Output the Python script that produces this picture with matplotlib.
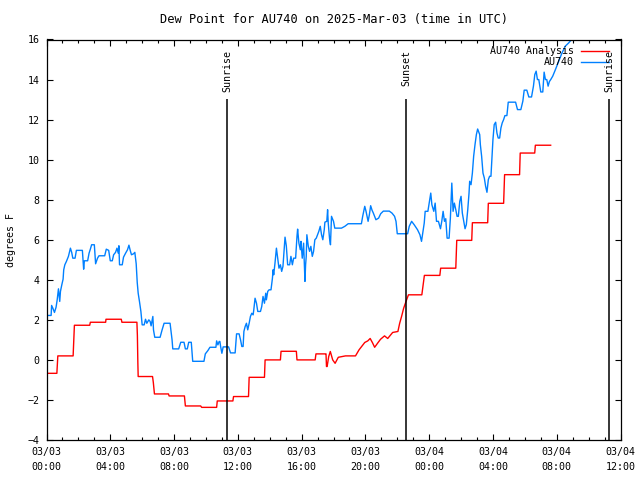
import matplotlib
matplotlib.use("Agg")
import matplotlib.pyplot as plt
from matplotlib.lines import Line2D

plt.rcParams['font.family'] = ['DejaVu Sans Mono']
plt.rcParams['font.size'] = 7.2

# hours since 03/03 00:00 UTC, dew point in F
obs_t = [0.0, 0.29, 0.32, 0.4, 0.5, 0.6, 0.67, 0.75, 0.83, 0.875, 0.96, 1.04, 1.08, 1.15,
         1.25, 1.375, 1.5, 1.58, 1.65, 1.79, 1.875, 2.25, 2.29, 2.33, 2.375, 2.58, 2.67,
         2.75, 2.83, 3.0, 3.08, 3.2, 3.29, 3.65, 3.75, 3.9, 4.0, 4.125, 4.21, 4.33, 4.42,
         4.5, 4.54, 4.58, 4.75, 4.83, 4.96, 5.08, 5.17, 5.25, 5.33, 5.46, 5.54, 5.625,
         5.69, 5.75, 5.83, 5.92, 6.0, 6.125, 6.21, 6.29, 6.42, 6.5, 6.56, 6.67, 6.71,
         6.79, 7.125, 7.25, 7.375, 7.75, 7.875, 7.92, 8.29, 8.42, 8.625, 8.71, 8.83,
         8.92, 9.08, 9.17, 9.875, 9.96, 10.125, 10.25, 10.625, 10.67, 10.75, 10.83,
         10.875, 10.92, 11.0, 11.08, 11.42, 11.54, 11.83, 11.92, 12.08, 12.17, 12.25,
         12.33, 12.38, 12.46, 12.54, 12.62, 12.71, 12.79, 12.875, 12.96, 13.0, 13.08,
         13.17, 13.25, 13.42, 13.5, 13.58, 13.67, 13.75, 13.79, 13.875, 13.96, 14.08,
         14.17, 14.21, 14.25, 14.33, 14.42, 14.5, 14.58, 14.67, 14.75, 14.83, 14.92,
         14.96, 15.04, 15.125, 15.25, 15.33, 15.42, 15.5, 15.625, 15.71, 15.75, 15.83,
         15.92, 15.96, 16.04, 16.125, 16.21, 16.25, 16.29, 16.33, 16.42, 16.5, 16.58,
         16.67, 16.75, 16.83, 16.92, 17.0, 17.08, 17.17, 17.25, 17.33, 17.42, 17.46,
         17.58, 17.63, 17.67, 17.75, 17.81, 17.875, 18.0, 18.08, 18.5, 18.71, 18.92,
         19.75, 19.83, 19.96, 20.04, 20.17, 20.25, 20.33, 20.42, 20.5, 20.66, 20.83,
         20.96, 21.125, 21.5, 21.67, 21.83, 21.92, 22.0, 22.65, 22.75, 22.9, 23.06,
         23.27, 23.42, 23.52, 23.58, 23.69, 23.75, 23.92, 24.0, 24.1, 24.17, 24.29,
         24.375, 24.46, 24.58, 24.71, 24.79, 24.875, 24.96, 25.04, 25.125, 25.25,
         25.33, 25.42, 25.5, 25.58, 25.67, 25.75, 25.83, 25.92, 26.0, 26.08, 26.17,
         26.25, 26.33, 26.42, 26.5, 26.54, 26.625, 26.71, 26.79, 26.875, 26.96, 27.04,
         27.17, 27.21, 27.29, 27.375, 27.46, 27.54, 27.625, 27.71, 27.79, 27.875,
         27.92, 28.0, 28.08, 28.17, 28.25, 28.33, 28.42, 28.5, 28.58, 28.67, 28.75,
         28.875, 28.96, 29.42, 29.54, 29.75, 29.875, 29.96, 30.125, 30.25, 30.42,
         30.54, 30.625, 30.71, 30.79, 30.875, 31.0, 31.125, 31.21, 31.29, 31.375,
         31.46, 31.54, 31.625, 31.75, 31.92, 32.125, 32.33, 32.54, 32.75, 32.96, 33.3]
obs_v = [2.22, 2.22, 2.72, 2.58, 2.37, 2.63, 3.0, 3.55, 2.92, 3.42, 3.75, 4.03, 4.5, 4.75,
         4.92, 5.17, 5.58, 5.37, 5.08, 5.08, 5.47, 5.47, 5.0, 4.53, 4.95, 4.95, 5.33,
         5.53, 5.75, 5.75, 4.8, 5.08, 5.2, 5.2, 5.53, 5.47, 4.95, 4.95, 5.25, 5.37, 5.58,
         5.33, 5.7, 4.75, 4.75, 5.13, 5.33, 5.5, 5.73, 5.47, 5.25, 5.3, 5.37, 4.8,
         3.87, 3.33, 2.92, 2.42, 1.75, 1.75, 2.03, 1.83, 2.0, 1.92, 1.7, 2.17, 1.5,
         1.13, 1.13, 1.5, 1.83, 1.83, 1.0, 0.55, 0.55, 0.88, 0.88, 0.55, 0.55,
         0.88, 0.88, -0.07, -0.07, 0.3, 0.47, 0.63, 0.63, 0.95, 0.75, 0.92,
         0.92, 0.67, 0.33, 0.65, 0.65, 0.35, 0.35, 1.3, 1.3, 1.0, 0.67,
         0.67, 1.42, 1.67, 1.83, 1.5, 1.83, 2.17, 2.33, 2.25, 2.5, 3.08,
         2.83, 2.42, 2.42, 2.67, 3.17, 2.83, 3.33, 3.0, 3.42, 3.5, 3.5,
         4.08, 4.5, 4.25, 4.83, 5.58, 5.08, 4.58, 4.75, 4.42, 4.67, 5.67,
         6.13, 5.7, 4.75, 4.75, 5.17, 4.75, 5.08, 5.08, 6.17, 6.53, 5.83,
         5.5, 5.92, 5.08, 5.83, 3.92, 4.75, 5.17, 6.25, 5.67, 5.42, 5.67,
         5.17, 5.42, 6.0, 6.08, 6.25, 6.42, 6.67, 6.25, 6.0, 6.5, 6.88,
         6.92, 7.5, 6.83, 6.08, 5.75, 7.17, 6.92, 6.58, 6.58, 6.67, 6.8,
         6.8, 7.17, 7.67, 7.42, 6.92, 7.25, 7.7, 7.47, 7.33, 7.0, 7.08,
         7.3, 7.43, 7.43, 7.33, 7.17, 6.92, 6.3, 6.3, 6.67, 6.92, 6.75,
         6.5, 6.25, 5.92, 6.25, 6.83, 7.42, 7.42, 7.83, 8.33, 7.75, 7.42,
         7.83, 6.92, 6.92, 6.55, 6.92, 7.42, 6.92, 7.05, 6.08, 6.08,
         7.08, 8.83, 7.42, 7.83, 7.5, 7.17, 7.17, 7.92, 8.17, 7.33, 6.92,
         6.55, 6.75, 7.5, 8.33, 8.92, 8.75, 9.33, 10.17, 10.75, 11.25, 11.53,
         11.25, 10.75, 10.17, 9.33, 9.08, 8.67, 8.37, 9.0, 9.17, 9.17,
         9.83, 11.0, 11.75, 11.87, 11.33, 11.08, 11.08, 11.58, 11.83, 12.0, 12.2,
         12.2, 12.87, 12.87, 12.5, 12.5, 12.92, 13.47, 13.47, 13.13, 13.13,
         13.67, 14.25, 14.42, 14.0, 14.0, 13.38, 13.38, 14.37, 14.0, 14.0,
         13.67, 13.9, 14.0, 14.17, 14.5, 14.92, 15.33, 15.67, 15.83, 16.03, 16.4]

ana_t = [0.0, 0.65, 0.71, 1.67, 1.75, 2.71, 2.75, 3.71, 3.73, 4.69, 4.73, 5.67, 5.70,
         5.73, 5.75, 6.65, 6.70, 6.77, 7.65, 7.69, 8.65, 8.71, 9.67, 9.73, 10.67, 10.71,
         11.69, 11.73, 12.67, 12.71, 13.67, 13.71, 14.67, 14.71, 15.67, 15.71, 16.85,
         16.9, 17.5, 17.53, 17.56, 17.6, 17.7, 17.8, 17.95, 18.1, 18.3, 18.75, 19.38,
         19.6, 19.96, 20.15, 20.3, 20.45, 20.58, 20.78, 20.95, 21.2, 21.4, 21.71,
         22.04, 22.15, 22.27, 22.4, 22.54, 22.7, 23.54, 23.7, 24.67, 24.72, 25.67,
         25.73, 26.67, 26.71, 27.67, 27.71, 28.67, 28.73, 29.67, 29.71, 30.62, 30.66,
         31.62]
ana_v = [-0.67, -0.67, 0.2, 0.2, 1.73, 1.73, 1.88, 1.88, 2.03, 2.03, 1.88, 1.88, 1.22,
         -0.17, -0.83, -0.83, -1.13, -1.7, -1.7, -1.8, -1.8, -2.3, -2.3, -2.37, -2.37,
         -2.05, -2.05, -1.83, -1.83, -0.87, -0.87, 0.0, 0.0, 0.43, 0.43, 0.0, 0.0,
         0.3, 0.3, 0.3, -0.33, -0.33, 0.17, 0.42, 0.0, -0.17, 0.13, 0.2, 0.2,
         0.5, 0.87, 0.95, 1.07, 0.85, 0.63, 0.85, 1.03, 1.2, 1.07, 1.37,
         1.42, 1.83, 2.17, 2.58, 2.9, 3.25, 3.25, 4.22, 4.22, 4.58, 4.58,
         5.97, 5.97, 6.85, 6.85, 7.82, 7.82, 9.25, 9.25, 10.33, 10.33, 10.72,
         10.72]

sun_t = [11.35, 22.54, 35.29]
sun_lbl = ['Sunrise', 'Sunset', 'Sunrise']

tick_h = [0, 4, 8, 12, 16, 20, 24, 28, 32, 36]
tick_lbl = ['03/03\n00:00', '03/03\n04:00', '03/03\n08:00', '03/03\n12:00',
            '03/03\n16:00', '03/03\n20:00', '03/04\n00:00', '03/04\n04:00',
            '03/04\n08:00', '03/04\n12:00']

fig = plt.figure(figsize=(6.4, 4.8), dpi=100)
ax = fig.add_axes([46.5 / 640, 40 / 480, 574 / 640, 400.5 / 480])

red = '#ff0000'
blue = '#0080ff'
ax.plot(ana_t, ana_v, color=red, lw=1.0)
ax.plot(obs_t, obs_v, color=blue, lw=1.0)

for t, s in zip(sun_t, sun_lbl):
    ax.vlines(t, -4, 13.05, color='black', lw=1.1)
    ax.text(t, 15.5, s, rotation=90, ha='center', va='top')

ax.set_xlim(0, 36)
ax.set_ylim(-4, 16)
ax.set_xticks(tick_h)
ax.set_xticklabels(tick_lbl, linespacing=1.6)
ax.set_xticks(range(0, 37), minor=True)
ax.set_yticks(range(-4, 17, 2))
ax.tick_params(which='both', direction='in', top=True, right=True, width=0.8)
ax.tick_params(which='major', length=4, pad=5)
ax.tick_params(which='minor', length=2.2)
for sp in ax.spines.values():
    sp.set_linewidth(0.9)

ax.set_title('Dew Point for AU740 on 2025-Mar-03 (time in UTC)', pad=12)
ax.set_ylabel('degrees F', labelpad=8.5)

# gnuplot-style legend with right-aligned text
for i, (lbl, c) in enumerate([('AU740 Analysis', red), ('AU740', blue)]):
    y = 0.972 - i * 0.029
    ax.text(0.919, y, lbl, transform=ax.transAxes, ha='right', va='center')
    ax.add_line(Line2D([0.932, 0.980], [y, y], transform=ax.transAxes, color=c, lw=1.0))

fig.savefig('out.png', dpi=100)
